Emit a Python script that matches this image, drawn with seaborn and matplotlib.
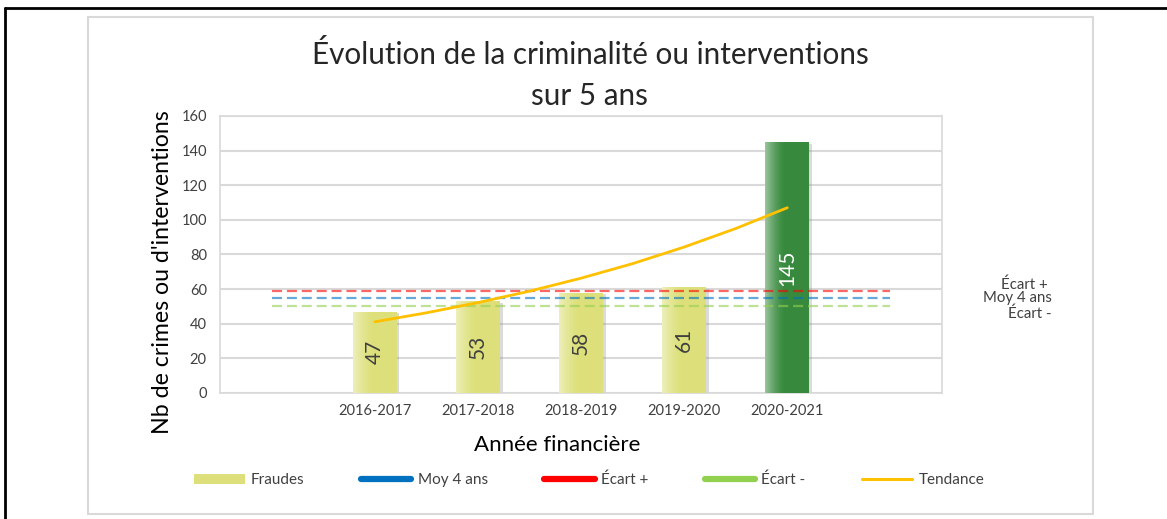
import numpy as np
import pandas as pd
import matplotlib
matplotlib.use("Agg")
import matplotlib.pyplot as plt
from matplotlib.lines import Line2D
from matplotlib.patches import Patch, Rectangle
import seaborn as sns

# ---- data ----
years = ["2016-2017", "2017-2018", "2018-2019", "2019-2020", "2020-2021"]
fraudes = [47, 53, 58, 61, 145]
moy_4_ans = 54.75
ecart_plus = 59.0
ecart_moins = 50.0
trend_steps = [0, 0.5, 1, 1.5, 2, 2.5, 3, 3.5, 4]   # positions along the category axis
trend_vals = [41.1, 46.3, 52.2, 58.8, 66.3, 74.7, 84.3, 95.0, 107.0]

title = "Évolution de la criminalité ou interventions\nsur 5 ans"
ylabel = "Nb de crimes ou d'interventions"
xlabel = "Année financière"

bar_colors = ["#DDE07A", "#DDE07A", "#DDE07A", "#DDE07A", "#378A3D"]
label_colors = ["#404040", "#404040", "#404040", "#404040", "white"]

sns.set_theme(style="white")
plt.rcParams["font.family"] = ["Lato", "DejaVu Sans"]

fig = plt.figure(figsize=(11.67, 5.19), dpi=100)
ax = fig.add_axes([0.1885, 0.2428, 0.6187, 0.5337])

df = pd.DataFrame({"annee": years, "n": fraudes})
sns.barplot(data=df, x="annee", y="n", hue="annee", palette=bar_colors,
            legend=False, width=0.43, ax=ax, zorder=3, linewidth=0, saturation=1)

# shading (lighter left edge + soft shadow on right)
for p in list(ax.patches):
    x0, y0, w, h = p.get_x(), p.get_y(), p.get_width(), p.get_height()
    sh = Rectangle((x0 + 0.025, y0 - 1.0), w, h, color="#8a8a8a", alpha=0.3, zorder=2.5, lw=0)
    ax.add_patch(sh)
    n = 100
    t = np.linspace(0, 1, n)
    alpha = np.clip(1 - t / 0.45, 0, 1) ** 1.5 * 0.5
    rgba = np.zeros((1, n, 4))
    rgba[..., :3] = 1.0
    rgba[..., 3] = alpha
    im = ax.imshow(rgba, extent=[x0, x0 + w, y0, y0 + h], aspect="auto", zorder=3.5,
                   interpolation="bilinear")
    im.set_clip_path(p)

# value labels
for i, (v, c) in enumerate(zip(fraudes, label_colors)):
    ax.text(i, v / 2, str(v), rotation=90, ha="center", va="center",
            fontsize=15, color=c, zorder=6)

# reference lines
dash = (0, (4.5, 2.2))
ax.hlines(ecart_plus, -1, 5, colors="#FF0000", linestyles=dash, lw=1.6, alpha=0.6, zorder=4)
ax.hlines(moy_4_ans, -1, 5, colors="#0070C0", linestyles=dash, lw=1.6, alpha=0.6, zorder=4)
ax.hlines(ecart_moins, -1, 5, colors="#92D050", linestyles=dash, lw=1.6, alpha=0.6, zorder=4)

# trend
ax.plot(trend_steps, trend_vals, color="#FFC000", lw=2, zorder=5)

ax.set_xlim(-1.5, 5.5)
ax.set_ylim(0, 160)
ax.set_yticks(range(0, 161, 20))
ax.yaxis.grid(True, color="#D9D9D9", lw=1.5, zorder=0)
ax.set_axisbelow(True)
for s in ax.spines.values():
    s.set_color("#D9D9D9")
    s.set_linewidth(1.2)
ax.tick_params(axis="both", length=0, labelsize=10.5, colors="#404040")
ax.tick_params(axis="y", pad=9.5)
ax.tick_params(axis="x", pad=8)
ax.set_xlabel(xlabel, fontsize=16, color="black")
ax.set_ylabel(ylabel, fontsize=16.7, color="black")
ax.xaxis.set_label_coords(0.467, -0.150)
ax.yaxis.set_label_coords(-0.065, 0.437)
fig.text(0.5055, 0.922, title, ha="center", va="top", fontsize=21.3, linespacing=1.56)

# right side labels
fig.text(1048 / 1167, 1 - 285 / 519, "Écart +", ha="right", va="center", fontsize=10.8, color="#404040")
fig.text(1052 / 1167, 1 - 298 / 519, "Moy 4 ans", ha="right", va="center", fontsize=10.8, color="#404040")
fig.text(1051 / 1167, 1 - 314 / 519, "Écart -", ha="right", va="center", fontsize=10.8, color="#404040")

# legend
handles = [
    Patch(facecolor="#DDE07A", edgecolor="none"),
    Line2D([], [], color="#0070C0", lw=4.5, solid_capstyle="round"),
    Line2D([], [], color="#FF0000", lw=4.5, solid_capstyle="round"),
    Line2D([], [], color="#92D050", lw=4.5, solid_capstyle="round"),
    Line2D([], [], color="#FFC000", lw=2.2),
]
labels = ["Fraudes", "Moy 4 ans", "Écart +", "Écart -", "Tendance"]
fig.legend(handles, labels, loc="center", bbox_to_anchor=(0.505, 1 - 480 / 519), ncol=5,
           frameon=False, fontsize=11, handlelength=3.3, handleheight=0.65,
           handletextpad=0.4, columnspacing=3.7, labelcolor="#404040")

# frames
fig.add_artist(Rectangle((88 / 1167, 1 - 514 / 519), (1093 - 88) / 1167, (514 - 17) / 519,
                         transform=fig.transFigure, fill=False, edgecolor="#D9D9D9", lw=1.5))
fig.add_artist(Line2D([5 / 1167, 1], [1 - 8 / 519, 1 - 8 / 519], transform=fig.transFigure,
                      color="black", lw=2))
fig.add_artist(Line2D([5 / 1167, 5 / 1167], [0, 1 - 8 / 519], transform=fig.transFigure,
                      color="black", lw=2))

fig.savefig("out.png", dpi=100, facecolor="white")
